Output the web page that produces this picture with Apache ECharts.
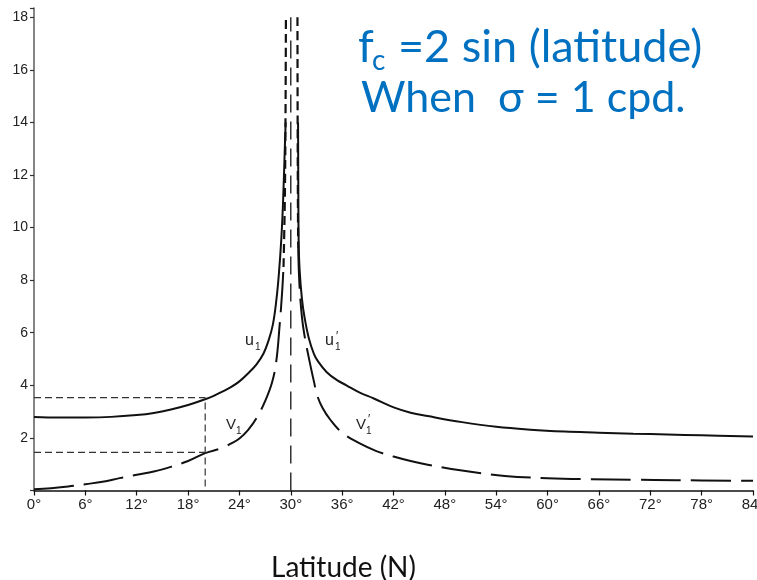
<!DOCTYPE html>
<html>
<head>
<meta charset="utf-8">
<script src="https://cdn.jsdelivr.net/npm/echarts@6/dist/echarts.min.js"></script>
<style>html,body{margin:0;padding:0;background:#fff;overflow:hidden}#c{width:757px;height:580px}</style>
</head>
<body>
<div id="c"></div>
<script>
// ---- data ----
var xTicks = [0, 6, 12, 18, 24, 30, 36, 42, 48, 54, 60, 66, 72, 78, 84];
var yTicks = [2, 4, 6, 8, 10, 12, 14, 16, 18];

// u1 (solid, south of 30 deg)
var u1Lat = [0, 3, 6, 9, 12, 14, 16, 18, 20, 21, 22, 23, 24, 25, 26, 26.8, 27.4, 27.9, 28.3, 28.6, 28.9, 29.1, 29.3, 29.4];
var u1Val = [2.8, 2.78, 2.78, 2.8, 2.87, 2.95, 3.08, 3.25, 3.47, 3.6, 3.76, 3.93, 4.15, 4.45, 4.8, 5.2, 5.7, 6.3, 7.2, 8.2, 9.6, 11.0, 13.0, 14.0];

// u1' (solid, north of 30 deg)
var u1pLat = [30.85, 30.88, 30.92, 31.03, 31.3, 31.6, 32.1, 32.7, 33.2, 34.2, 35.4, 36.5, 38, 39.7, 42.1, 44, 46, 50, 54, 58, 62, 66, 70, 74, 78, 84];
var u1pVal = [14.0, 11.5, 9.5, 8.4, 7.3, 6.6, 5.8, 5.2, 4.9, 4.5, 4.2, 4.0, 3.73, 3.5, 3.15, 2.96, 2.83, 2.6, 2.42, 2.31, 2.24, 2.2, 2.16, 2.13, 2.1, 2.05];

// v1 (long dashes, south) and its near-vertical upper part (short dashes)
var v1Lat = [0, 2, 4, 6, 8, 10, 12, 14, 16, 18, 20, 22, 23, 24, 25, 26, 27, 27.8, 28.3, 28.7, 29.0, 29.15];
var v1Val = [0.05, 0.09, 0.15, 0.24, 0.33, 0.47, 0.6, 0.72, 0.9, 1.12, 1.42, 1.62, 1.78, 1.98, 2.3, 2.75, 3.4, 4.1, 4.9, 6.3, 7.6, 8.5];
var v1TopLat = [29.15, 29.3, 29.38, 29.43];
var v1TopVal = [8.5, 11.0, 14.0, 18.0];

// v1' (long dashes, north) and its near-vertical upper part (short dashes)
var v1pTopLat = [30.78, 30.8, 30.83, 30.87];
var v1pTopVal = [18.0, 14.0, 11.0, 9.2];
var v1pLat = [30.87, 31.0, 31.3, 31.6, 32.2, 32.7, 33.1, 33.7, 34.6, 36, 38, 40, 42, 44, 46, 50, 55, 60, 65, 70, 75, 84];
var v1pVal = [9.2, 7.9, 6.6, 5.9, 4.9, 4.15, 3.6, 3.15, 2.7, 2.2, 1.8, 1.5, 1.29, 1.12, 0.98, 0.76, 0.55, 0.47, 0.43, 0.41, 0.39, 0.37];

var centerLat = 30;      // vertical dashed line
var centerTop = 18;
var guideLat = 20;       // dashed guide lines
var guideU = 3.53;
var guideV = 1.45;

function pairs(xs, ys) { return xs.map(function (x, i) { return [x, ys[i]]; }); }

// ---- text fitting ----
var cv = document.createElement('canvas').getContext('2d');
function fitSize(text, family, target) {
  cv.font = '100px ' + family;
  return 100 * target / cv.measureText(text).width;
}
var TF = 'Lato, "Open Sans", sans-serif';
var s1 = fitSize('=2 sin (latitude)', TF, 302);
var s2 = fitSize('When  \u03c3 = 1 cpd.', TF, 326);
var s3 = fitSize('Latitude (N)', TF, 145);
var blue = '#0070C0';
var tickFont = '"Liberation Sans", sans-serif';
var lblFont = '"Liberation Sans", sans-serif';

var chart = echarts.init(document.getElementById('c'), null, { renderer: 'canvas' });

var lineBase = { type: 'line', symbol: 'none', smooth: 0.4, clip: true, z: 3, animation: false };

chart.setOption({
  animation: false,
  backgroundColor: '#fff',
  grid: { left: 34, right: 4, top: 8, bottom: 89.5, containLabel: false, outerBoundsMode: 'none' },
  xAxis: {
    type: 'value', min: 0, max: 84, interval: 6,
    axisLine: { show: true, lineStyle: { color: '#111', width: 1.5 } },
    axisTick: { show: true, length: 5, lineStyle: { color: '#111', width: 1.2 } },
    axisLabel: { margin: 7, fontSize: 15, color: '#222', fontFamily: tickFont,
      formatter: function (v) { return xTicks.indexOf(v) >= 0 ? v + '\u00b0' : ''; } },
    splitLine: { show: false }
  },
  yAxis: {
    type: 'value', min: 0, max: 18.35, interval: 2,
    axisLine: { show: true, onZero: false, lineStyle: { color: '#666', width: 1.6 } },
    axisTick: { show: true, length: 4, lineStyle: { color: '#333', width: 1.2 } },
    axisLabel: { margin: 6, fontSize: 14, color: '#222', fontFamily: tickFont,
      formatter: function (v) { return yTicks.indexOf(v) >= 0 ? String(v) : ''; } },
    splitLine: { show: false }
  },
  series: [
    Object.assign({}, lineBase, { name: 'u1', data: pairs(u1Lat, u1Val),
      lineStyle: { color: '#111', width: 2 } }),
    Object.assign({}, lineBase, { name: "u1'", data: pairs(u1pLat, u1pVal),
      lineStyle: { color: '#111', width: 2 } }),
    Object.assign({}, lineBase, { name: 'v1', data: pairs(v1Lat, v1Val),
      lineStyle: { color: '#111', width: 2, type: [40, 10] } }),
    Object.assign({}, lineBase, { name: 'v1 top', data: pairs(v1TopLat, v1TopVal),
      lineStyle: { color: '#111', width: 2.2, type: [9, 5] } }),
    Object.assign({}, lineBase, { name: "v1'", data: pairs(v1pLat, v1pVal),
      lineStyle: { color: '#111', width: 2, type: [40, 10] } }),
    Object.assign({}, lineBase, { name: "v1' top", data: pairs(v1pTopLat, v1pTopVal),
      lineStyle: { color: '#111', width: 2.2, type: [9, 5] } }),
    { type: 'line', symbol: 'none', smooth: false, animation: false,
      data: [[centerLat, 0], [centerLat, centerTop]],
      lineStyle: { color: '#222', width: 1.4, type: [18, 9] } },
    { type: 'line', symbol: 'none', smooth: false, animation: false,
      data: [[0, guideU], [guideLat, guideU], [guideLat, 0]],
      lineStyle: { color: '#333', width: 1.2, type: [7, 4] } },
    { type: 'line', symbol: 'none', smooth: false, animation: false,
      data: [[0, guideV], [guideLat, guideV]],
      lineStyle: { color: '#333', width: 1.2, type: [7, 4] } }
  ],
  graphic: [
    { type: 'text', left: 358, top: 25, style: { text: 'f', font: Math.round(s1) + 'px ' + TF, fill: blue } },
    { type: 'text', left: 372, top: 47, style: { text: 'c', font: Math.round(s1 * 0.62) + 'px ' + TF, fill: blue } },
    { type: 'text', left: 398, top: 25, style: { text: '=2 sin (latitude)', font: Math.round(s1) + 'px ' + TF, fill: blue } },
    { type: 'text', left: 361, top: 77, style: { text: 'When  \u03c3 = 1 cpd.', font: Math.round(s2) + 'px ' + TF, fill: blue } },
    { type: 'text', left: 271, top: 554, style: { text: 'Latitude (N)', font: Math.round(s3) + 'px ' + TF, fill: '#111' } },
    // curve labels
    { type: 'text', left: 245, top: 333, style: { text: 'u', font: '16px ' + lblFont, fill: '#222' } },
    { type: 'text', left: 255, top: 342, style: { text: '1', font: '10px ' + lblFont, fill: '#222' } },
    { type: 'text', left: 325, top: 333, style: { text: 'u', font: '16px ' + lblFont, fill: '#222' } },
    { type: 'text', left: 335, top: 342, style: { text: '1', font: '10px ' + lblFont, fill: '#222' } },
    { type: 'text', left: 336, top: 331, style: { text: '\u2032', font: '12px ' + lblFont, fill: '#222' } },
    { type: 'text', left: 226, top: 417, style: { text: 'V', font: '15px ' + lblFont, fill: '#222' } },
    { type: 'text', left: 236, top: 426, style: { text: '1', font: '10px ' + lblFont, fill: '#222' } },
    { type: 'text', left: 356, top: 417, style: { text: 'V', font: '15px ' + lblFont, fill: '#222' } },
    { type: 'text', left: 366, top: 426, style: { text: '1', font: '10px ' + lblFont, fill: '#222' } },
    { type: 'text', left: 368, top: 414, style: { text: '\u2032', font: '12px ' + lblFont, fill: '#222' } }
  ]
});
</script>
</body>
</html>
